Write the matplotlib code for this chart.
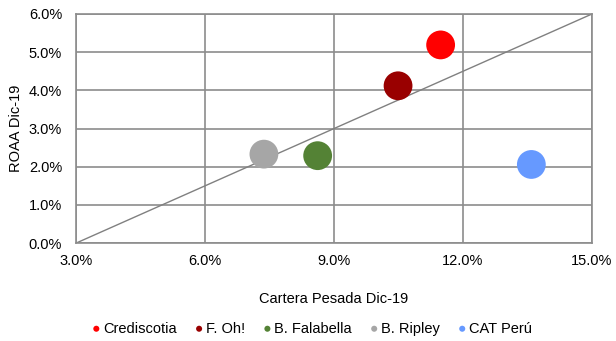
import matplotlib.pyplot as plt
from matplotlib.ticker import PercentFormatter

plt.rcParams['font.family'] = ['Liberation Sans', 'DejaVu Sans']

entidades = ["Crediscotia", "F. Oh!", "B. Falabella", "B. Ripley", "CAT Perú"]
cartera_pesada = [11.48, 10.49, 8.62, 7.37, 13.59]
roaa = [5.19, 4.12, 2.29, 2.33, 2.06]
colores = ["#ff0000", "#990000", "#548235", "#a6a6a6", "#6699ff"]

x_ticks = [3, 6, 9, 12, 15]
y_ticks = [0, 1, 2, 3, 4, 5, 6]
diag_x = [3, 15]
diag_y = [0, 6]

fig = plt.figure(figsize=(6.16, 3.41), dpi=100)
ax = fig.add_axes([0.1234, 0.287, 0.8376, 0.672])

ax.plot(diag_x, diag_y, color="#808080", lw=1.0, zorder=2)
for nom, xv, yv, c in zip(entidades, cartera_pesada, roaa, colores):
    ax.scatter(xv, yv, s=430, color=c, zorder=3, label=nom, edgecolors="none")

ax.set_xlim(3, 15)
ax.set_ylim(0, 6)
ax.set_xticks(x_ticks)
ax.set_yticks(y_ticks)
ax.xaxis.set_major_formatter(PercentFormatter(decimals=1))
ax.yaxis.set_major_formatter(PercentFormatter(decimals=1))
ax.grid(True, color="#8c8c8c", lw=1.2, zorder=0)
ax.set_axisbelow(True)
for s in ax.spines.values():
    s.set_color("#8c8c8c")
    s.set_linewidth(1.2)
ax.tick_params(length=0, labelsize=10.5)
ax.tick_params(axis="x", pad=8)
ax.tick_params(axis="y", pad=10)

ax.set_xlabel("Cartera Pesada Dic-19", fontsize=10.5, labelpad=17)
ax.set_ylabel("ROAA Dic-19", fontsize=10.5, labelpad=4)

leg = ax.legend(loc="upper center", bbox_to_anchor=(0.455, -0.285), ncol=5,
                frameon=False, fontsize=10.5, markerscale=0.21,
                handletextpad=0.0, columnspacing=1.1, handlelength=0.9)

fig.savefig("out.png", dpi=100)
